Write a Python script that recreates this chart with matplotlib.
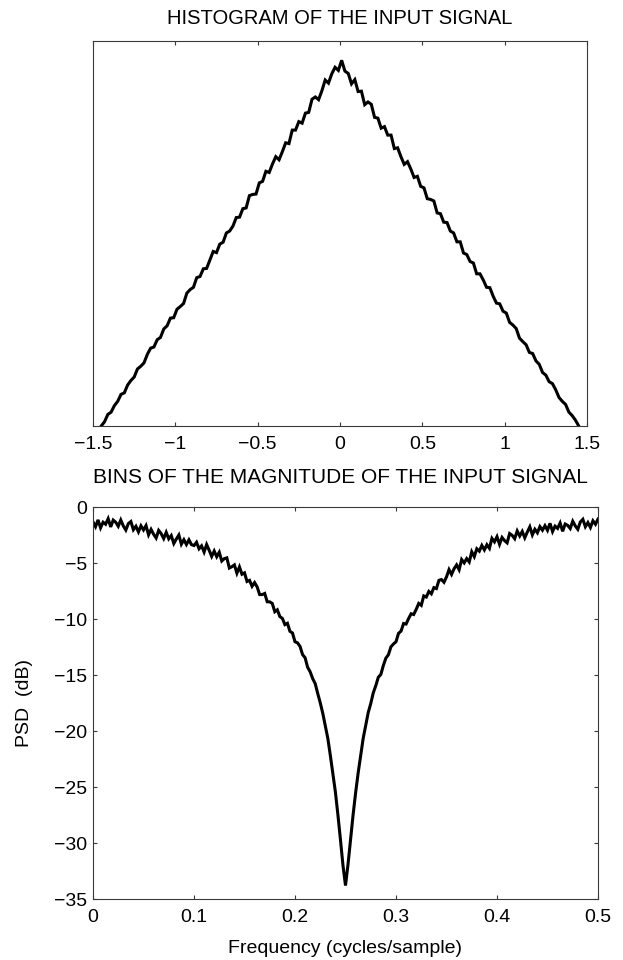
import numpy as np
import matplotlib
matplotlib.use("Agg")
import matplotlib.pyplot as plt

plt.rcParams['font.family'] = ['Liberation Sans', 'DejaVu Sans']

# ---------------- data: histogram of the input signal ----------------
hist_lo, hist_hi, hist_n = -1.45, 1.45, 146          # bin centres
hist_counts = [
    0, 11, 30, 36, 53, 64, 82, 86, 106, 118,
    127, 148, 155, 164, 186, 202, 205, 224, 230, 252,
    260, 280, 281, 303, 310, 318, 345, 354, 360, 385,
    388, 408, 409, 431, 453, 450, 472, 477, 501, 506,
    519, 541, 542, 564, 566, 598, 601, 602, 631, 635,
    661, 658, 680, 699, 691, 712, 735, 733, 768, 768,
    790, 786, 812, 814, 848, 854, 847, 870, 898, 890,
    914, 931, 923, 949, 921, 915, 888, 899, 868, 869,
    834, 841, 835, 801, 799, 773, 777, 755, 755, 720,
    722, 699, 679, 686, 667, 645, 648, 622, 618, 590,
    588, 584, 553, 551, 529, 528, 506, 501, 478, 478,
    449, 445, 427, 423, 395, 395, 379, 360, 359, 337,
    319, 317, 298, 293, 269, 262, 253, 228, 219, 211,
    191, 188, 169, 160, 139, 132, 115, 110, 94, 74,
    64, 56, 36, 27, 15, 0,
]
hist_xticks = [-1.5, -1, -0.5, 0, 0.5, 1, 1.5]
hist_xticklabels = ['\u22121.5', '\u22121', '\u22120.5', '0', '0.5', '1', '1.5']

# ---------------- data: PSD (dB) ----------------
psd_f0, psd_f1, psd_n = 0.0, 0.5, 201
psd_db = [
    -1.33, -1.76, -1.15, -1.86, -1.36, -1.54, -1.04, -1.78, -1.17, -1.36,
    -1.72, -1.16, -1.69, -2.06, -1.48, -1.30, -2.03, -1.72, -2.22, -1.68,
    -2.05, -1.66, -2.48, -2.00, -2.43, -2.77, -2.09, -2.38, -2.82, -2.26,
    -2.84, -2.55, -3.26, -2.86, -2.50, -3.32, -2.92, -3.35, -2.93, -3.36,
    -3.44, -3.15, -3.73, -3.47, -4.02, -3.35, -3.86, -4.41, -3.93, -4.44,
    -4.04, -4.82, -4.61, -4.54, -5.45, -5.33, -5.17, -5.91, -5.35, -6.00,
    -5.88, -6.65, -6.55, -7.08, -6.75, -7.13, -7.82, -7.82, -7.72, -8.46,
    -8.47, -8.61, -9.35, -9.18, -9.78, -9.95, -10.50, -10.38, -11.10, -11.25,
    -12.03, -12.13, -12.45, -13.18, -13.46, -14.31, -14.71, -15.32, -15.77, -16.65,
    -17.48, -18.42, -19.56, -20.66, -22.19, -23.84, -25.45, -27.50, -29.70, -32.00,
    -33.80,
    -31.90, -29.70, -27.50, -25.53, -23.76, -22.21, -20.66, -19.52, -18.35, -17.55,
    -16.59, -15.95, -15.20, -14.95, -14.14, -13.49, -13.19, -12.48, -12.23, -12.03,
    -11.28, -11.08, -10.40, -10.45, -9.95, -9.53, -9.60, -9.14, -8.61, -8.78,
    -7.94, -8.04, -7.54, -7.75, -7.20, -7.28, -6.55, -6.48, -6.72, -6.24,
    -5.59, -6.02, -5.51, -5.17, -5.60, -4.69, -4.99, -4.61, -4.91, -4.00,
    -4.43, -3.73, -3.94, -3.43, -3.83, -3.37, -3.69, -2.80, -3.11, -2.65,
    -3.33, -2.72, -3.00, -3.20, -2.37, -2.53, -2.83, -2.14, -2.59, -2.18,
    -2.75, -2.24, -1.77, -2.49, -1.99, -2.30, -1.75, -2.07, -1.67, -2.08,
    -1.46, -2.19, -1.71, -1.91, -1.43, -2.17, -1.52, -1.64, -1.92, -1.27,
    -1.69, -1.99, -1.34, -1.10, -1.76, -1.39, -1.83, -1.23, -1.54, -1.08,
]
psd_xticks = [0, 0.1, 0.2, 0.3, 0.4, 0.5]
psd_xticklabels = ['0', '0.1', '0.2', '0.3', '0.4', '0.5']
psd_yticks = [-35, -30, -25, -20, -15, -10, -5, 0]
psd_yticklabels = ['\u221235', '\u221230', '\u221225', '\u221220', '\u221215',
                   '\u221210', '\u22125', '0']

title_top = 'HISTOGRAM OF THE INPUT SIGNAL'
xlabel_top = 'BINS OF THE MAGNITUDE OF THE INPUT SIGNAL'
xlabel_bot = 'Frequency (cycles/sample)'
ylabel_bot = 'PSD  (dB)'

# ---------------- figure ----------------
fig = plt.figure(figsize=(6.23, 9.6), dpi=100)
fig.patch.set_facecolor('white')

ax1 = fig.add_axes([93/623, 1-426/960, 494/623, 385.3/960])
ax2 = fig.add_axes([93/623, 1-899/960, 505/623, 392/960])

spine_col = '#3a3a3a'
for ax in (ax1, ax2):
    for s in ax.spines.values():
        s.set_color(spine_col)
        s.set_linewidth(0.8)
    ax.tick_params(direction='in', length=3.2, width=0.8, color=spine_col,
                   labelsize=14, pad=7, labelcolor='black')

# top: histogram
hx = np.linspace(hist_lo, hist_hi, hist_n)
ax1.plot(hx, hist_counts, color='black', lw=2.2, solid_joinstyle='miter')
ax1.set_xlim(-1.5, 1.5)
ax1.set_ylim(0, 1000)
ax1.set_xticks(hist_xticks)
ax1.set_xticklabels(hist_xticklabels)
ax1.set_yticks([])
ax1.tick_params(axis='x', top=True, bottom=True)
ax1.set_title(title_top, fontsize=14.5, pad=12)
ax1.set_xlabel(xlabel_top, fontsize=15, va='top')
ax1.xaxis.set_label_coords(0.5, (426-468)/385.3)

# bottom: PSD
fx = np.linspace(psd_f0, psd_f1, psd_n)
ax2.plot(fx, psd_db, color='black', lw=2.2, solid_joinstyle='miter')
ax2.set_xlim(0, 0.5)
ax2.set_ylim(-35, 0)
ax2.set_xticks(psd_xticks)
ax2.set_xticklabels(psd_xticklabels)
ax2.set_yticks(psd_yticks)
ax2.set_yticklabels(psd_yticklabels)
ax2.tick_params(axis='x', top=True, bottom=True)
ax2.tick_params(axis='y', left=True, right=True, pad=4)
ax2.set_xlabel(xlabel_bot, fontsize=14, va='top')
ax2.xaxis.set_label_coords(0.5, (899-940)/392)
ax2.set_ylabel(ylabel_bot, fontsize=14, va='center')
ax2.yaxis.set_label_coords((24.5-93)/505, 0.5)

fig.savefig('out.png', dpi=100, facecolor='white')
